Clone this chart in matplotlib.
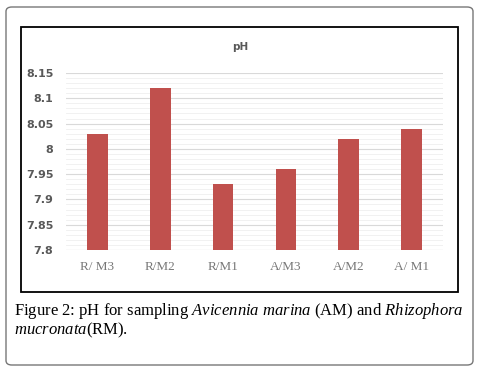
import numpy as np
import matplotlib.pyplot as plt
from matplotlib.patches import FancyBboxPatch, Rectangle
from matplotlib.ticker import MultipleLocator

plt.rcParams['mathtext.fontset'] = 'custom'
plt.rcParams['mathtext.rm'] = 'Liberation Serif'
plt.rcParams['mathtext.it'] = 'Liberation Serif:italic'

# data
samples = ['R/ M3', 'R/M2', 'R/M1', 'A/M3', 'A/M2', 'A/ M1']
ph = [8.03, 8.12, 7.93, 7.96, 8.02, 8.04]
yticks = ['7.8', '7.85', '7.9', '7.95', '8', '8.05', '8.1', '8.15']

W, H = 491, 372
fig = plt.figure(figsize=(W / 100, H / 100), dpi=100)

def px(x, y):
    return x / W, 1 - y / H

# outer rounded frame and inner chart box
x0, y0 = px(6, 365)
outer = FancyBboxPatch((x0, y0), 467 / W, 358 / H, boxstyle='round,pad=0,rounding_size=0.012',
                       transform=fig.transFigure, fill=False, edgecolor='#777777', lw=1.0)
fig.patches.append(outer)
x1, y1 = px(21, 292)
inner = Rectangle((x1, y1), 437 / W, 265 / H, transform=fig.transFigure,
                  fill=False, edgecolor='black', lw=1.3)
fig.patches.append(inner)

ax = fig.add_axes([66 / W, 1 - 250 / H, (443 - 66) / W, (250 - 73) / H])
x = np.arange(len(samples))
ax.bar(x, np.array(ph) - 7.8, bottom=7.8, width=0.33, color='#C0504D', zorder=3)

ax.set_ylim(7.8, 8.15)
ax.set_xlim(-0.5, len(samples) - 0.5)
ax.yaxis.set_minor_locator(MultipleLocator(0.01))
ax.grid(axis='y', which='major', color='#D9D9D9', lw=0.8, zorder=0)
ax.grid(axis='y', which='minor', color='#EFEFEF', lw=0.6, zorder=0)
ax.tick_params(axis='both', which='both', length=0)
for s in ax.spines.values():
    s.set_visible(False)
ax.axhline(7.8, color='#D9D9D9', lw=0.8, zorder=1)

ax.set_yticks(np.linspace(7.8, 8.15, len(yticks)))
ax.set_yticklabels(yticks, fontsize=8, fontweight='bold', color='#595959', family='DejaVu Sans')
ax.set_xticks(x)
ax.set_xticklabels(samples, fontsize=9.5, color='#777777', family='Liberation Serif')
ax.tick_params(axis='y', pad=9)
ax.tick_params(axis='x', pad=8)

fig.text(240 / W, 1 - 47 / H, 'pH', ha='center', va='center', fontsize=7.5,
         fontweight='bold', color='#595959')

# caption
cap_kw = dict(fontsize=12, family='Liberation Serif', va='center')
fig.text(14 / W, 1 - 311 / H,
         r'Figure 2: pH for sampling $\mathit{Avicennia\ marina}$ (AM) and $\mathit{Rhizophora}$',
         **cap_kw)
fig.text(14 / W, 1 - 330 / H, r'$\mathit{mucronata}$(RM).', **cap_kw)

fig.savefig('out.png', dpi=100)
